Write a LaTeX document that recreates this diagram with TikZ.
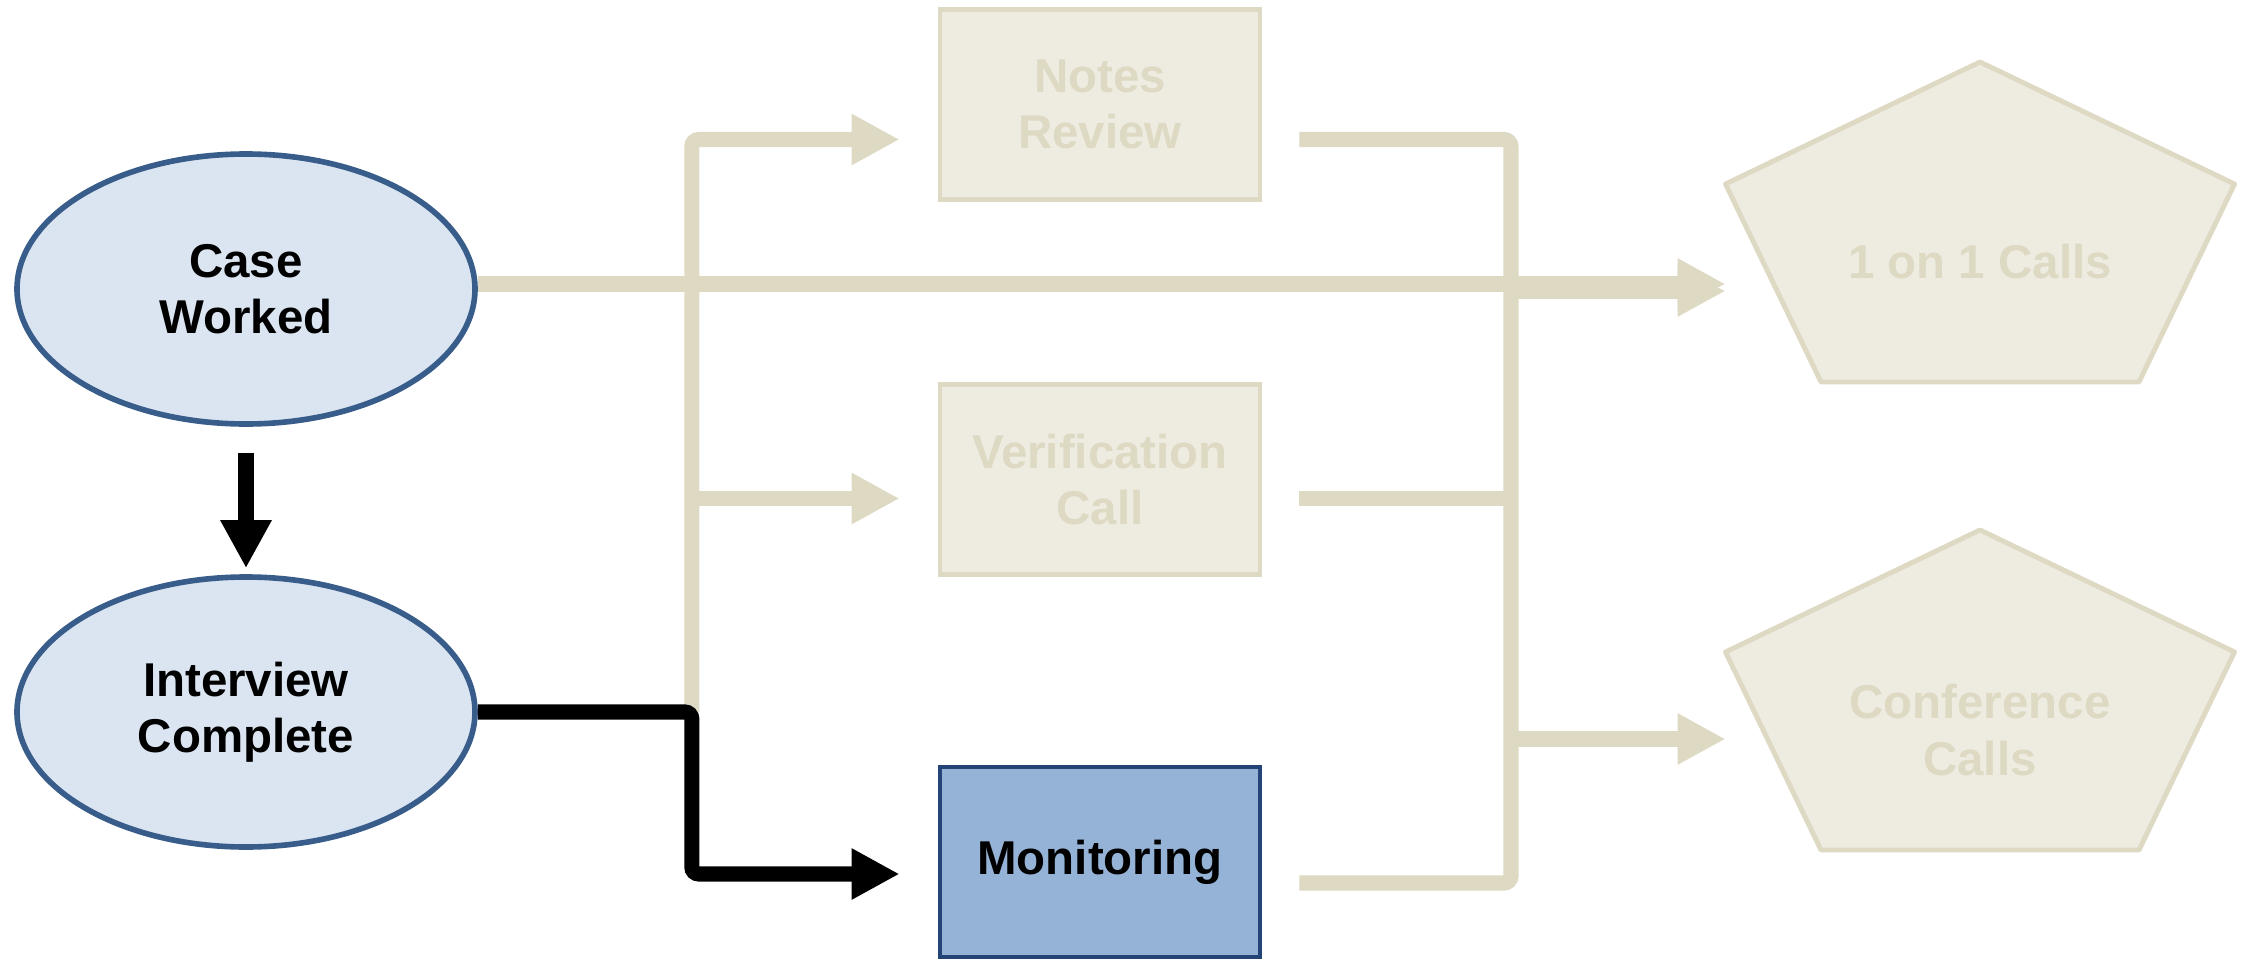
\documentclass[tikz,border=0pt]{standalone}
\usepackage{fontspec}
\setmainfont{Liberation Sans}
\usetikzlibrary{arrows.meta,calc,shapes.geometric}
\definecolor{stageblue}{RGB}{219,229,241}
\definecolor{stageedge}{RGB}{56,93,138}
\definecolor{monblue}{RGB}{149,179,215}
\definecolor{monedge}{RGB}{36,68,120}
\definecolor{tanfill}{RGB}{238,236,225}
\definecolor{tanline}{RGB}{221,217,195}

\begin{document}
\begin{tikzpicture}[>={Triangle[length=0.48cm,width=0.48cm]},
    every node/.style={font=\fontsize{13.5}{16}\selectfont\bfseries, align=center},
    stage/.style={ellipse, draw=stageedge, fill=stageblue, line width=1.6pt,
        minimum width=4.58cm, minimum height=2.7cm, inner sep=0pt},
    task/.style={rectangle, draw=tanline, fill=tanfill, text=tanline, line width=1.4pt,
        minimum width=3.2cm, minimum height=1.9cm},
    activetask/.style={task, draw=monedge, fill=monblue, text=black},
    callshape/.style={draw=tanline, fill=tanfill, line width=1.4pt, line join=round},
    flow/.style={->, tanline, line width=4.3pt},
    bus/.style={tanline, line width=4.3pt, rounded corners=2pt},
    mainflow/.style={->, black, line width=4.3pt, rounded corners=2pt}]
    \useasboundingbox (0,0) rectangle (22.42,9.60);

    % Interview stages
    \node[stage] (cw) at (2.46,6.71) {Case\\Worked};
    \node[stage] (ic) at (2.46,2.48) {Interview\\Complete};

    % Review tasks
    \node[task] (notes) at (11.00,8.555) {Notes\\Review};
    \node[task] (verif) at (11.00,4.805) {Verification\\Call};
    \node[activetask] (mon) at (11.00,0.98) {Monitoring};

    % Call pentagons
    \foreach \nm/\pos/\txt in {one/{19.80,6.98}/{1 on 1 Calls}, conf/{19.80,2.30}/{Conference\\Calls}} {
        \begin{scope}[shift={(\pos)}]
            \draw[callshape] (0,2.0) -- (2.545,0.78) -- (1.59,-1.2) -- (-1.59,-1.2) -- (-2.545,0.78) -- cycle;
            \node[text=tanline] (\nm) at (0,0) {\txt};
            \coordinate (\nm-in) at (-2.545,-0.09);
        \end{scope}
    }

    % Ports on the boxes
    \coordinate (cw-out) at ([yshift=0.05cm]cw.east);
    \coordinate (notes-in) at ([yshift=-0.35cm]notes.west);
    \coordinate (notes-out) at ([yshift=-0.35cm]notes.east);
    \coordinate (verif-in) at ([yshift=-0.19cm]verif.west);
    \coordinate (verif-out) at ([yshift=-0.19cm]verif.east);
    \coordinate (mon-in) at ([yshift=-0.12cm]mon.west);
    \coordinate (mon-out) at ([yshift=-0.21cm]mon.east);
    \coordinate (split) at ($(ic.east)+(2.14,0)$);
    \coordinate (merge) at (15.11,4.62);
    \coordinate (one-feed) at ($(cw-out -| one-in)+(0,-0.07)$);

    % Direct line to 1 on 1 calls
    \draw[flow] (cw-out) -- (cw-out -| one-in);

    % Left bus into the tasks
    \draw[flow, rounded corners=2pt, shorten >=0.38cm] (split) |- (notes-in);
    \draw[flow, shorten >=0.38cm] (split |- verif-in) -- (verif-in);

    % Right bus out of the tasks
    \draw[bus, shorten <=0.37cm, shorten >=0.37cm] (notes-out) -| (merge) |- (mon-out);
    \draw[bus, shorten <=0.37cm] (verif-out) -- (verif-out -| merge);
    \draw[flow] (merge |- one-feed) -- (one-feed);
    \draw[flow] (merge |- conf-in) -- (conf-in);

    % Active path
    \draw[mainflow, shorten <=0.26cm, shorten >=0.06cm] (cw.south) -- (ic.north);
    \draw[mainflow, shorten >=0.38cm] (ic.east) -- (split) |- (mon-in);
\end{tikzpicture}
\end{document}
